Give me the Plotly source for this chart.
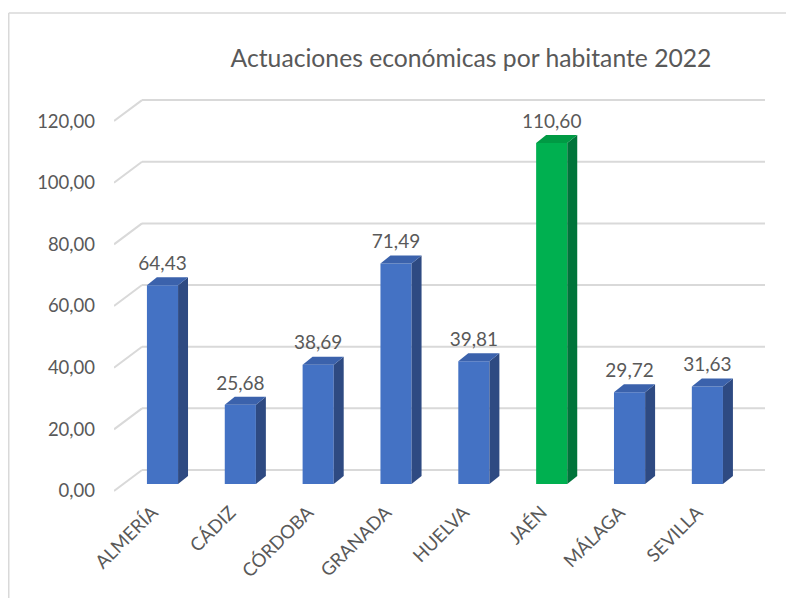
import plotly.graph_objects as go

# ---- data ----
categories = ["ALMERÍA", "CÁDIZ", "CÓRDOBA", "GRANADA", "HUELVA", "JAÉN", "MÁLAGA", "SEVILLA"]
values = [64.43, 25.68, 38.69, 71.49, 39.81, 110.60, 29.72, 31.63]
tick_values = [0, 20, 40, 60, 80, 100, 120]
tick_labels = ["0,00", "20,00", "40,00", "60,00", "80,00", "100,00", "120,00"]
value_labels = ["64,43", "25,68", "38,69", "71,49", "39,81", "110,60", "29,72", "31,63"]
highlight = "JAÉN"

# ---- styling / geometry ----
OFF = 8  # page body margin
W, H = 794, 598
L = 114 - OFF
T = 90 - OFF
R = W - (765 - OFF)
B = H - (492 - OFF)
FONT = "Lato"
TXT = "#595959"
GRID = "#D9D9D9"
BLUE_F, BLUE_S, BLUE_T = "#4472C4", "#2E4A82", "#3B62AC"
GREEN_F, GREEN_S, GREEN_T = "#00B050", "#00743A", "#009A44"

x_range = [-0.623, 7.74]
y_range = [-2.6, 127.8]
bar_w = 0.40
bar_dx, bar_dy = 0.128, 2.6        # bar depth (x units, value units)
back_dy = 4.53                      # back-wall offset from bar front
front_dy = -2.27                    # axis front plane offset
wall_x = x_range[0] + 0.36          # back wall left edge
label_gap = 0.8                     # extra gap above bars for value labels

xs = list(range(len(categories)))
fig = go.Figure()

# front faces
fig.add_trace(go.Bar(
    x=xs, y=values, width=bar_w,
    marker=dict(color=[GREEN_F if c == highlight else BLUE_F for c in categories], line=dict(width=0)),
    hoverinfo="skip", showlegend=False,
))

# side and top faces
for x, v, c in zip(xs, values, categories):
    side = GREEN_S if c == highlight else BLUE_S
    top = GREEN_T if c == highlight else BLUE_T
    xr = x + bar_w / 2
    xl = x - bar_w / 2
    fig.add_trace(go.Scatter(
        x=[xr, xr, xr + bar_dx, xr + bar_dx, xr], y=[0, v, v + bar_dy, bar_dy, 0],
        fill="toself", fillcolor=side, mode="lines", line=dict(width=0, color=side),
        hoverinfo="skip", showlegend=False))
    fig.add_trace(go.Scatter(
        x=[xl, xr, xr + bar_dx, xl + bar_dx, xl], y=[v, v, v + bar_dy, v + bar_dy, v],
        fill="toself", fillcolor=top, mode="lines", line=dict(width=0, color=top),
        hoverinfo="skip", showlegend=False))

# value labels
fig.add_trace(go.Scatter(
    x=xs, y=[v + bar_dy + label_gap for v in values],
    mode="text", text=value_labels, textposition="top center",
    textfont=dict(family=FONT, size=19, color=TXT),
    hoverinfo="skip", showlegend=False))

# gridlines (back wall) and diagonal connectors
shapes = []
for tv in tick_values:
    shapes.append(dict(type="line", xref="x", yref="y", layer="below",
                       x0=wall_x, x1=x_range[1], y0=tv + back_dy, y1=tv + back_dy,
                       line=dict(color=GRID, width=2)))
    shapes.append(dict(type="line", xref="x", yref="y", layer="below",
                       x0=x_range[0], x1=wall_x, y0=tv + front_dy, y1=tv + back_dy,
                       line=dict(color=GRID, width=2)))

# outer frame (screen x=8, y=13)
pw = W - L - R
ph = H - T - B
fx = 8 - OFF + 0.75
fy = 13 - OFF
shapes.append(dict(type="line", xref="paper", yref="paper", layer="below",
                   x0=(fx - L) / pw, x1=(W + 5 - L) / pw,
                   y0=1 + (T - fy) / ph, y1=1 + (T - fy) / ph,
                   line=dict(color=GRID, width=1.5)))
shapes.append(dict(type="line", xref="paper", yref="paper", layer="below",
                   x0=(fx - L) / pw, x1=(fx - L) / pw,
                   y0=1 + (T - fy) / ph, y1=-(B + 10) / ph,
                   line=dict(color=GRID, width=1.5)))

fig.update_layout(
    width=W, height=H,
    margin=dict(l=L, r=R, t=T, b=B),
    paper_bgcolor="white", plot_bgcolor="white",
    shapes=shapes,
    title=dict(text="Actuaciones económicas por habitante 2022",
               font=dict(family=FONT, size=24.7, color=TXT),
               x=(471 - OFF) / W, xanchor="center", y=1 - (58 - OFF) / H, yanchor="middle"),
    xaxis=dict(range=x_range, tickmode="array", tickvals=xs, ticktext=categories,
               tickangle=-45, showgrid=False, zeroline=False, showline=False,
               ticks="", ticklabelshift=-10, ticklabelstandoff=5,
               tickfont=dict(family=FONT, size=18.5, color=TXT)),
    yaxis=dict(range=y_range, tickmode="array",
               tickvals=[tv + front_dy for tv in tick_values], ticktext=tick_labels,
               showgrid=False, zeroline=False, showline=False, ticks="",
               ticklabelstandoff=18,
               tickfont=dict(family=FONT, size=18.5, color=TXT)),
    font=dict(family=FONT, color=TXT),
)

fig.write_html("out.html")
